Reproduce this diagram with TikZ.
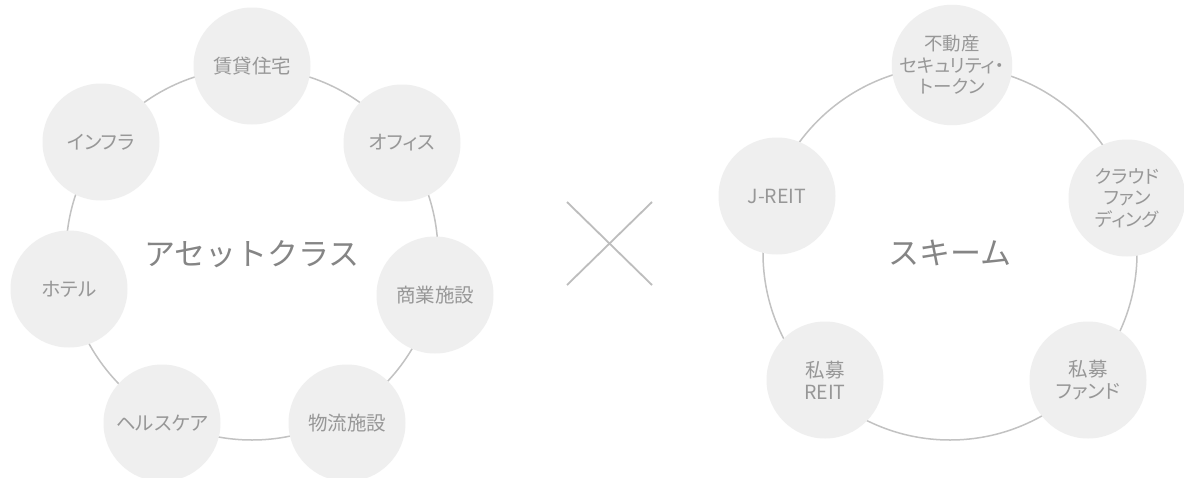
\documentclass[tikz,border=0pt]{standalone}
\usepackage{fontspec}
\setmainfont{Noto Sans CJK JP}[RawFeature=+palt]
\newfontfamily\jpbig{Noto Sans CJK JP}
\definecolor{fillc}{HTML}{EFEFEF}
\definecolor{labelc}{HTML}{979797}
\definecolor{titlec}{HTML}{858585}
\definecolor{ringc}{HTML}{C2C2C2}
\definecolor{crossc}{HTML}{BDBDBD}
\begin{document}
\begin{tikzpicture}[x=1pt,y=-1pt,
  item/.style={circle, fill=fillc, minimum size=117pt, inner sep=0pt, align=center,
    text=labelc, font=\fontsize{19.5}{22}\selectfont},
  itemm/.style={item, font=\fontsize{18.5}{21.5}\selectfont},
  ring/.style={circle, draw=ringc, line width=1.5pt, inner sep=0pt,
    text=titlec, font=\jpbig\fontsize{31}{36}\selectfont},
  crossline/.style={draw=crossc, line width=1.8pt}]
\useasboundingbox (0,0) rectangle (1184,477);
\fill[white] (0,0) rectangle (1184,477);

% left ring
\node[ring, minimum size=372pt] (ringL) at (252,254) {アセットクラス};
\node[item] (L1) at (252,66)  {賃貸住宅};
\node[item] (L2) at (402,143) {オフィス};
\node[item] (L3) at (435,295) {商業施設};
\node[item] (L4) at (347,423) {物流施設};
\node[item] (L5) at (162,423) {ヘルスケア};
\node[item] (L6) at (69,289)  {ホテル};
\node[item] (L7) at (101,142) {インフラ};

% cross
\coordinate (xa) at (567,202);
\coordinate (xb) at (652,285);
\coordinate (xc) at (652,202);
\coordinate (xd) at (567,285);
\draw[crossline] (xa) -- (xb);
\draw[crossline] (xc) -- (xd);

% right ring
\node[ring, minimum size=374pt] (ringR) at (950,253) {スキーム};
\node[itemm] (R1) at (952,65)   {不動産\\セキュリティ・\\トークン};
\node[itemm] (R2) at (1127,198) {クラウド\\ファン\\ディング};
\node[item] (R3) at (1088,380) {私募\\ファンド};
\node[item] (R4) at (825,380)  {私募\\REIT};
\node[item] (R5) at (777,196)  {J-REIT};
\end{tikzpicture}
\end{document}
